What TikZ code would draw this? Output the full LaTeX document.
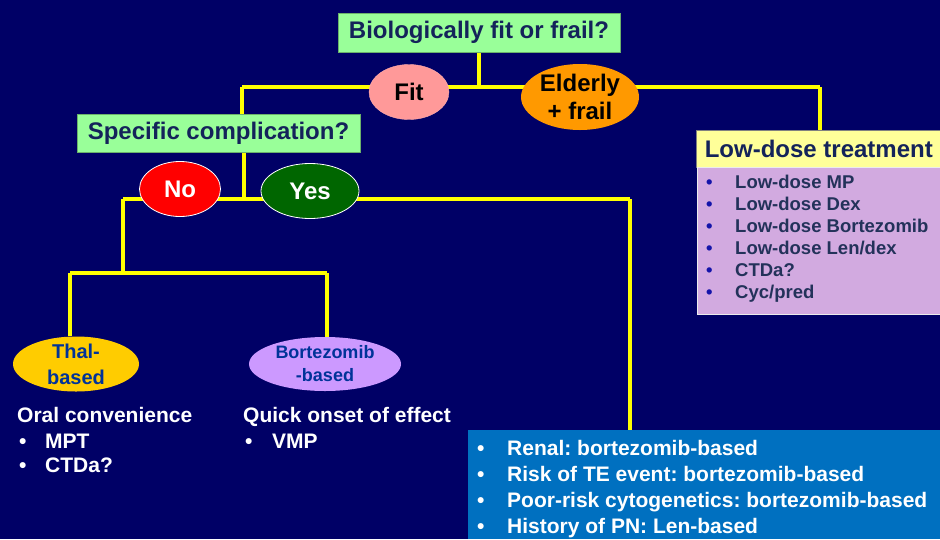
\documentclass[tikz,border=0pt]{standalone}
\usepackage{fontspec}
\setmainfont{Liberation Sans}
\usetikzlibrary{shapes.geometric}
\frenchspacing
\definecolor{bgnavy}{RGB}{0,0,102}
\definecolor{qgreen}{RGB}{153,255,153}
\definecolor{qtext}{RGB}{20,35,90}
\definecolor{fitpink}{RGB}{255,153,153}
\definecolor{frailorange}{RGB}{255,153,0}
\definecolor{nored}{RGB}{255,0,0}
\definecolor{yesgreen}{RGB}{0,102,0}
\definecolor{thalyellow}{RGB}{255,204,0}
\definecolor{bortlilac}{RGB}{204,153,255}
\definecolor{ellblue}{RGB}{0,51,153}
\definecolor{lowyellow}{RGB}{255,255,153}
\definecolor{lowlilac}{RGB}{210,170,224}
\definecolor{lowtext}{RGB}{35,50,90}
\definecolor{lowbullet}{RGB}{20,20,170}
\definecolor{compblue}{RGB}{0,112,192}
\definecolor{lineyellow}{RGB}{255,255,0}
\pgfdeclarelayer{back}
\pgfdeclarelayer{lines}
\pgfsetlayers{back,lines,main}
\tikzset{
  qbox/.style={draw=qgreen!70!black, line width=0.6pt, fill=qgreen, inner sep=0pt, text=qtext,
    font=\fontsize{24}{28}\selectfont\bfseries},
  oval/.style={ellipse, inner sep=0pt},
  lbl/.style={inner sep=0pt, align=center, font=\fontsize{24}{28}\selectfont\bfseries},
  slbl/.style={inner sep=0pt, align=center, text=ellblue},
  conn/.style={draw=lineyellow, line width=3.5pt},
  wtext/.style={inner sep=0pt, anchor=base west, text=white, font=\fontsize{21}{25}\selectfont\bfseries},
  ltext/.style={inner sep=0pt, anchor=base west, text=lowtext, font=\fontsize{18.5}{22}\selectfont\bfseries},
}
\begin{document}
\begin{tikzpicture}[x=1pt,y=-1pt]
\begin{pgfonlayer}{back}
\fill[bgnavy] (0,0) rectangle (940,539);
\end{pgfonlayer}
\useasboundingbox (0,0) rectangle (940,539);

% question boxes
\node[qbox, minimum width=282pt, minimum height=39pt] (title) at (479,32.5) {Biologically fit or frail?};
\node[qbox, minimum width=283pt, minimum height=38pt] (spec) at (218.5,133) {Specific complication?};

% low-dose box
\node[draw=gray, line width=0.6pt, fill=lowyellow, inner sep=0pt, anchor=north west,
  minimum width=245pt, minimum height=37pt, text=qtext, font=\fontsize{24}{28}\selectfont\bfseries] (low) at (696,130) {Low-dose treatment};
\node[draw=white!85!gray, line width=0.8pt, fill=lowlilac, inner sep=0pt, anchor=north west,
  minimum width=244pt, minimum height=147pt] (lowlist) at (697,167) {};
\foreach \t [count=\i] in {Low-dose MP,Low-dose Dex,Low-dose Bortezomib,Low-dose Len/dex,CTDa?,Cyc/pred}{
  \node[ltext, text=lowbullet] (lb\i) at (706,166+22*\i) {•};
  \node[ltext] (lt\i) at (735,166+22*\i) {\t};
}

% complication box
\node[fill=compblue, inner sep=0pt, anchor=north west, minimum width=472pt, minimum height=109pt] (comp) at (468,430) {};
\foreach \t [count=\i] in {Renal: bortezomib-based,Risk of TE event: bortezomib-based,Poor-risk cytogenetics: bortezomib-based,History of PN: Len-based}{
  \node[wtext] (cb\i) at (477,429+26*\i) {•};
  \node[wtext] (ct\i) at (507,429+26*\i) {\t};
}

% ovals
\node[oval, fill=fitpink, draw=fitpink!80!white, minimum width=80pt, minimum height=55pt,
  label={[lbl, text=black]center:Fit}] (fit) at (409,92) {};
\node[oval, fill=frailorange, minimum width=118pt, minimum height=66pt,
  label={[lbl, text=black]center:Elderly\\+ frail}] (frail) at (580,97) {};
\node[oval, fill=nored, draw=white, line width=0.8pt, minimum width=81pt, minimum height=55pt,
  label={[lbl, text=white]center:No}] (no) at (180,189) {};
\node[oval, fill=yesgreen, draw=white, line width=0.8pt, minimum width=98pt, minimum height=55pt,
  label={[lbl, text=white]center:Yes}] (yes) at (310,191) {};
\node[oval, fill=thalyellow, minimum width=126pt, minimum height=55pt,
  label={[slbl, font=\fontsize{20}{26}\selectfont\bfseries]center:Thal-\\based}] (thal) at (76,364) {};
\node[oval, fill=bortlilac, minimum width=152pt, minimum height=54pt,
  label={[slbl, font=\fontsize{18}{23}\selectfont\bfseries]center:Bortezomib\\-based}] (bort) at (325,364) {};

% texts below ovals
\node[wtext] (oral) at (17,422) {Oral convenience};
\node[wtext] (mptb) at (19,448) {•};
\node[wtext] (mpt) at (45,448) {MPT};
\node[wtext] (ctdb) at (19,472) {•};
\node[wtext] (ctd) at (45,472) {CTDa?};
\node[wtext] (quick) at (243,422) {Quick onset of effect};
\node[wtext] (vmpb) at (245,448) {•};
\node[wtext] (vmp) at (272,448) {VMP};

% junction points
\coordinate (j1) at (479,87);
\coordinate (jl) at (242,87);
\coordinate (jr) at (820,87);
\coordinate (j2) at (244,199);
\coordinate (j2l) at (123,199);
\coordinate (j2r) at (630,199);
\coordinate (j3) at (123,273);
\coordinate (j3l) at (70,273);
\coordinate (j3r) at (327,273);

\begin{pgfonlayer}{lines}
\draw[conn] (title.south) -- (j1);
\draw[conn] (jl) -- (jr);
\draw[conn] (jl) -- (jl |- spec.north);
\draw[conn] (jr) -- (jr |- low.north);
\draw[conn] (spec.south -| j2) -- (j2);
\draw[conn] (j2l) -- (j2r);
\draw[conn] (j2l) -- (j3);
\draw[conn] (j2r) -- (j2r |- comp.north);
\draw[conn] (j3l) -- (j3r);
\draw[conn] (j3l) -- (j3l |- thal.north);
\draw[conn] (j3r) -- (j3r |- bort.north);
\end{pgfonlayer}
\end{tikzpicture}
\end{document}
